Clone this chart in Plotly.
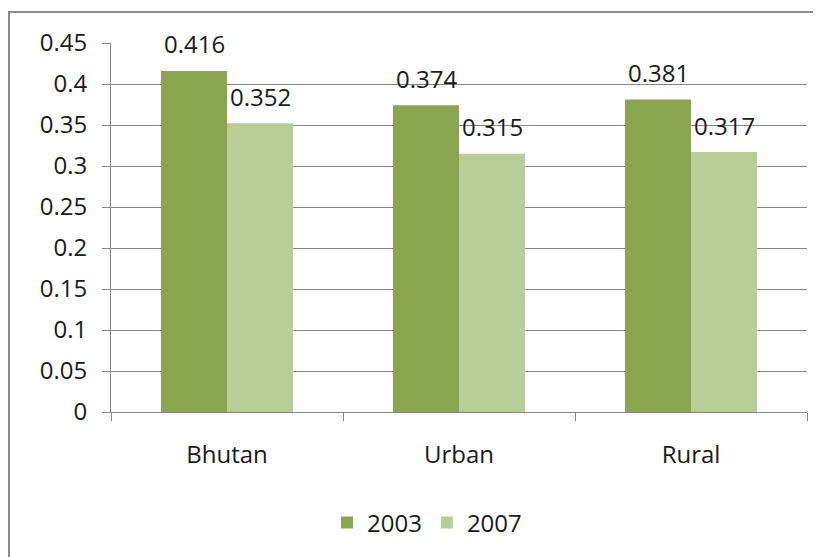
import plotly.graph_objects as go

categories = ["Bhutan", "Urban", "Rural"]
series_names = ["2003", "2007"]
values_2003 = [0.416, 0.374, 0.381]
values_2007 = [0.352, 0.315, 0.317]
colors = ["#89A54E", "#B9CE96"]

FONT = "Open Sans"
FS = 24
OFF = 8  # page body margin
W, H = 821 - OFF, 557 - OFF
L, R, T, B = 111 - OFF, 14, 43 - OFF, 145

fig = go.Figure()
for name, vals, col in zip(series_names, [values_2003, values_2007], colors):
    fig.add_trace(go.Bar(
        x=categories, y=vals, name=name, marker=dict(color=col, line=dict(width=0)),
    ))

# value labels above bars
pw = W - L - R
ph = H - T - B
catw = pw / len(categories)
bargap = 1 - 132 / catw
barw = catw * (1 - bargap) / 2
for i, vals in enumerate([values_2003, values_2007]):
    xs = -barw / 2 if i == 0 else barw / 2
    for c, v in zip(categories, vals):
        fig.add_annotation(x=c, y=v, text=f"{v:.3f}", showarrow=False,
                           xshift=xs, yshift=27, yanchor="middle",
                           font=dict(family=FONT, size=FS, color="#1a1a1a"))

fig.add_shape(type="rect", xref="paper", yref="paper",
              x0=(9 - 111) / pw, x1=2, y0=-2, y1=(412 - 12) / ph,
              line=dict(color="#8c8c8c", width=2), fillcolor="rgba(0,0,0,0)", layer="below")

fig.update_layout(
    width=W, height=H,
    margin=dict(l=L, r=R, t=T, b=B, pad=0, autoexpand=False),
    plot_bgcolor="white", paper_bgcolor="white",
    barmode="group", bargap=bargap, bargroupgap=0,
    font=dict(family=FONT, size=FS, color="#1a1a1a"),
    showlegend=True,
    legend=dict(orientation="h", x=(427 - 111) / pw, xanchor="center",
                y=-(523 - 412) / ph, yanchor="middle",
                font=dict(family=FONT, size=FS, color="#1a1a1a"),
                itemwidth=30, tracegroupgap=0, bgcolor="rgba(0,0,0,0)"),
    xaxis=dict(showgrid=False, showline=True, linecolor="#868686", linewidth=1,
               ticks="outside", tickson="boundaries", ticklen=8, tickcolor="#868686",
               ticklabelstandoff=21, tickfont=dict(size=FS), automargin=False, fixedrange=True),
    yaxis=dict(range=[0, 0.45], dtick=0.05, tick0=0, showgrid=True, gridcolor="#868686",
               gridwidth=1, showline=True, linecolor="#868686", linewidth=1,
               ticks="outside", ticklen=8, tickcolor="#868686", zeroline=False,
               ticklabelstandoff=10, tickfont=dict(size=FS), automargin=False),
)

fig.write_html("out.html")
